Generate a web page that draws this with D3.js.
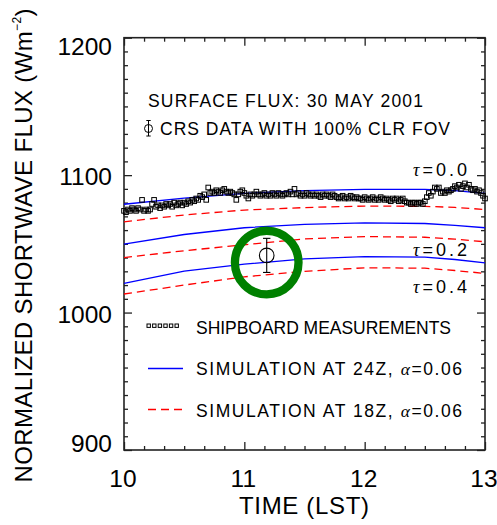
<!DOCTYPE html>
<html>
<head>
<meta charset="utf-8">
<script src="https://cdn.jsdelivr.net/npm/d3@7/dist/d3.min.js"></script>
<style>
  body { margin: 0; background: #fff; }
  text { font-family: "Liberation Sans", Arial, Helvetica, sans-serif; fill: #000; }
  .greek { font-family: "Liberation Serif", "DejaVu Serif", serif; font-style: italic; }
</style>
</head>
<body>
<svg id="chart" width="497" height="525"></svg>
<script>
// ---- axis ticks ----
const timeTicks = [10, 11, 12, 13];
const fluxTicks = [900, 1000, 1100, 1200];

// ---- model simulations (node times in LST hours) ----
const simTimes      = [10, 10.5, 11, 11.5, 12, 12.5, 12.75, 13];
const sim24zTau00   = [1078.8, 1083.2, 1086.7, 1088.7, 1089.7, 1089.6, 1088.7, 1086.8];
const sim18zTau00   = [1066.0, 1071.0, 1074.6, 1076.4, 1077.5, 1077.3, 1076.5, 1075.0];
const sim24zTau02   = [1049.8, 1056.8, 1061.7, 1064.2, 1065.3, 1064.8, 1063.5, 1061.7];
const sim18zTau02   = [1040.0, 1045.0, 1049.3, 1053.6, 1055.3, 1054.8, 1053.4, 1051.5];
const sim24zTau04   = [1021.2, 1030.2, 1035.2, 1039.0, 1040.7, 1040.4, 1038.6, 1036.2];
const sim18zTau04   = [1013.5, 1020.0, 1026.0, 1030.0, 1032.6, 1032.3, 1030.6, 1028.5];

// ---- shipboard measurements: one sample per minute from 10:00 LST ----
const shipStartHour = 10;
const shipStepMinutes = 1;
const shipFlux = [
  1074, 1073, 1075, 1074, 1076, 1075, 1074, 1076, 1075, 1082,
  1074, 1075, 1074, 1075, 1079, 1082, 1077, 1078, 1076, 1078,
  1077, 1079, 1078, 1079, 1077, 1080, 1078, 1079, 1080, 1078,
  1080, 1079, 1081, 1080, 1082, 1081, 1083, 1082, 1085, 1084,
  1086, 1082, 1091, 1087, 1088, 1087, 1089, 1088, 1087, 1089,
  1090, 1088, 1087, 1088, 1087, 1086, 1082, 1086, 1088, 1089,
  1087, 1085, 1083, 1086, 1085, 1086, 1088, 1086, 1085, 1086,
  1087, 1085, 1086, 1085, 1087, 1086, 1085, 1087, 1086, 1085,
  1086, 1087, 1086, 1088, 1086, 1090, 1086, 1087, 1085, 1086,
  1085, 1087, 1086, 1085, 1086, 1085, 1086, 1085, 1084, 1086,
  1085, 1086, 1085, 1084, 1086, 1085, 1084, 1083, 1084, 1085,
  1083, 1084, 1083, 1085, 1084, 1083, 1084, 1083, 1083, 1082,
  1084, 1083, 1082, 1083, 1084, 1082, 1083, 1082, 1084, 1083,
  1082, 1083, 1082, 1081, 1083, 1082, 1083, 1081, 1082, 1083,
  1081, 1080, 1080, 1079, 1080, 1080, 1079, 1080, 1080, 1079,
  1081, 1084, 1087, 1085, 1088, 1091, 1090, 1091, 1087, 1088,
  1087, 1089, 1088, 1089, 1090, 1092, 1091, 1093, 1090, 1092,
  1094, 1091, 1093, 1090, 1089, 1090, 1088, 1089, 1087, 1085,
  1083
];

// ---- CRS retrieval (100% clear field of view) ----
const crsTime = 11.186;
const crsFlux = 1041.6;
const crsError = 12.4;
// highlight ring around the CRS retrieval
const ringFlux = 1036.4;

const svg = d3.select("#chart");
const plotLeft = 124, plotRight = 485, plotTop = 37.7, plotBottom = 450;

const x = d3.scaleLinear().domain([10, 13]).range([plotLeft, plotRight]);
const y = d3.scaleLinear().domain([900, 1200]).range([plotBottom, plotTop]);

const minorX = d3.range(0, 19).map(i => 10 + i / 6).filter(t => Math.abs(t - Math.round(t)) > 1e-6);
const minorY = d3.range(900, 1201, 10).filter(v => v % 100 !== 0);

// ---- frame and inward ticks on all four sides ----
const axisColor = "#222";
function styleAxis(g) {
  g.select(".domain").remove();
  g.selectAll(".tick line").attr("stroke", axisColor).attr("stroke-width", 1.3);
}
svg.append("g").attr("transform", `translate(${plotLeft},0)`)
  .call(d3.axisLeft(y).tickValues(fluxTicks).tickSize(-8).tickFormat("")).call(styleAxis);
svg.append("g").attr("transform", `translate(${plotLeft},0)`)
  .call(d3.axisLeft(y).tickValues(minorY).tickSize(-4).tickFormat("")).call(styleAxis);
svg.append("g").attr("transform", `translate(${plotRight},0)`)
  .call(d3.axisRight(y).tickValues(fluxTicks).tickSize(-8).tickFormat("")).call(styleAxis);
svg.append("g").attr("transform", `translate(${plotRight},0)`)
  .call(d3.axisRight(y).tickValues(minorY).tickSize(-4).tickFormat("")).call(styleAxis);
svg.append("g").attr("transform", `translate(0,${plotBottom})`)
  .call(d3.axisBottom(x).tickValues(timeTicks).tickSize(-8).tickFormat("")).call(styleAxis);
svg.append("g").attr("transform", `translate(0,${plotBottom})`)
  .call(d3.axisBottom(x).tickValues(minorX).tickSize(-4).tickFormat("")).call(styleAxis);
svg.append("g").attr("transform", `translate(0,${plotTop})`)
  .call(d3.axisTop(x).tickValues(timeTicks).tickSize(-8).tickFormat("")).call(styleAxis);
svg.append("g").attr("transform", `translate(0,${plotTop})`)
  .call(d3.axisTop(x).tickValues(minorX).tickSize(-4).tickFormat("")).call(styleAxis);

svg.append("rect")
  .attr("x", plotLeft).attr("y", plotTop)
  .attr("width", plotRight - plotLeft).attr("height", plotBottom - plotTop)
  .attr("fill", "none").attr("stroke", axisColor).attr("stroke-width", 1.6);

// ---- tick labels (end labels kept inside the axis extent) ----
svg.append("g").selectAll("text").data(fluxTicks).join("text")
  .attr("x", plotLeft - 12)
  .attr("y", d => Math.min(Math.max(y(d) + 10, plotTop + 17.5), plotBottom + 1.7))
  .attr("text-anchor", "end")
  .attr("font-size", 24.5)
  .text(d => d);

svg.append("g").selectAll("text").data(timeTicks).join("text")
  .attr("x", d => x(d) - 1)
  .attr("y", 486.7)
  .attr("text-anchor", "middle")
  .attr("font-size", 24.5)
  .text(d => d);

// ---- axis titles ----
svg.append("text")
  .attr("x", 304).attr("y", 514)
  .attr("text-anchor", "middle")
  .attr("font-size", 24)
  .attr("textLength", 130).attr("lengthAdjust", "spacing")
  .text("TIME (LST)");

const yTitle = svg.append("text")
  .attr("transform", "translate(32,245.5) rotate(-90)")
  .attr("text-anchor", "middle")
  .attr("font-size", 24)
  .attr("textLength", 474).attr("lengthAdjust", "spacing");
yTitle.append("tspan").text("NORMALIZED SHORTWAVE FLUX (Wm");
yTitle.append("tspan").attr("font-size", 12).attr("dy", -11).text("\u22122");
yTitle.append("tspan").attr("dy", 11).text(")");

// ---- simulation curves ----
const lineGen = vals => d3.line()
  .x((d, i) => x(simTimes[i]))
  .y(d => y(d))(vals);

const sims = [
  { v: sim24zTau00, c: "#0000ff", dash: null },
  { v: sim18zTau00, c: "#ff0000", dash: "8,5" },
  { v: sim24zTau02, c: "#0000ff", dash: null },
  { v: sim18zTau02, c: "#ff0000", dash: "8,5" },
  { v: sim24zTau04, c: "#0000ff", dash: null },
  { v: sim18zTau04, c: "#ff0000", dash: "8,5" }
];
svg.append("g").selectAll("path").data(sims).join("path")
  .attr("d", d => lineGen(d.v))
  .attr("fill", "none")
  .attr("stroke", d => d.c)
  .attr("stroke-width", 1.3)
  .attr("stroke-dasharray", d => d.dash);

// ---- shipboard squares ----
const sq = 4.6;
svg.append("g").selectAll("rect").data(shipFlux).join("rect")
  .attr("x", (d, i) => x(shipStartHour + i * shipStepMinutes / 60) - sq / 2)
  .attr("y", d => y(d) - sq / 2)
  .attr("width", sq).attr("height", sq)
  .attr("fill", "none").attr("stroke", "#000").attr("stroke-width", 1);

// ---- CRS point with error bar ----
const crs = svg.append("g").attr("stroke", "#000").attr("stroke-width", 1.1).attr("fill", "none");
crs.append("line")
  .attr("x1", x(crsTime)).attr("x2", x(crsTime))
  .attr("y1", y(crsFlux + crsError)).attr("y2", y(crsFlux - crsError));
[crsFlux + crsError, crsFlux - crsError].forEach(v => {
  crs.append("line")
    .attr("x1", x(crsTime) - 3.7).attr("x2", x(crsTime) + 3.7)
    .attr("y1", y(v)).attr("y2", y(v));
});
crs.append("circle").attr("cx", x(crsTime)).attr("cy", y(crsFlux)).attr("r", 7.3);

// green highlight ring
svg.append("circle")
  .attr("cx", x(crsTime)).attr("cy", y(ringFlux)).attr("r", 31.8)
  .attr("fill", "none").attr("stroke", "#008000").attr("stroke-width", 8.3);

// ---- optical depth labels ----
const tauLabels = [
  { t: "0.0", yb: 176 },
  { t: "0.2", yb: 256.3 },
  { t: "0.4", yb: 293 }
];
tauLabels.forEach(d => {
  const t = svg.append("text").attr("x", 413).attr("y", d.yb).attr("font-size", 18)
    .attr("textLength", 54).attr("lengthAdjust", "spacing");
  t.append("tspan").attr("class", "greek").text("\u03c4");
  t.append("tspan").text("=" + d.t);
});

// ---- header text ----
svg.append("text").attr("x", 148).attr("y", 106.6).attr("font-size", 17.5)
  .attr("textLength", 275).attr("lengthAdjust", "spacing")
  .text("SURFACE FLUX: 30 MAY 2001");
svg.append("text").attr("x", 160).attr("y", 135).attr("font-size", 17.5)
  .attr("textLength", 290).attr("lengthAdjust", "spacing")
  .text("CRS DATA WITH 100% CLR FOV");

// header error-bar symbol
const sym = svg.append("g").attr("stroke", "#000").attr("stroke-width", 1).attr("fill", "none");
sym.append("line").attr("x1", 148.5).attr("x2", 148.5).attr("y1", 120.5).attr("y2", 136);
sym.append("line").attr("x1", 146.3).attr("x2", 150.7).attr("y1", 120.5).attr("y2", 120.5);
sym.append("line").attr("x1", 146.3).attr("x2", 150.7).attr("y1", 136).attr("y2", 136);
sym.append("circle").attr("cx", 148.5).attr("cy", 128.5).attr("r", 4);

// ---- legend ----
const legendX = 196;
svg.append("g").selectAll("rect").data(d3.range(6)).join("rect")
  .attr("x", i => 147 + i * 5.6).attr("y", 324)
  .attr("width", 3.4).attr("height", 3.4)
  .attr("fill", "none").attr("stroke", "#000").attr("stroke-width", 1);
svg.append("text").attr("x", legendX).attr("y", 334).attr("font-size", 17.5)
  .attr("textLength", 255).attr("lengthAdjust", "spacing")
  .text("SHIPBOARD MEASUREMENTS");

svg.append("line").attr("x1", 148).attr("x2", 183).attr("y1", 368.5).attr("y2", 368.5)
  .attr("stroke", "#0000ff").attr("stroke-width", 1.3);
const l2 = svg.append("text").attr("x", legendX).attr("y", 375).attr("font-size", 17.5)
  .attr("textLength", 266).attr("lengthAdjust", "spacing");
l2.append("tspan").text("SIMULATION AT 24Z, ");
l2.append("tspan").attr("class", "greek").text("\u03b1");
l2.append("tspan").text("=0.06");

svg.append("line").attr("x1", 148).attr("x2", 183).attr("y1", 409.5).attr("y2", 409.5)
  .attr("stroke", "#ff0000").attr("stroke-width", 1.3).attr("stroke-dasharray", "8,5");
const l3 = svg.append("text").attr("x", legendX).attr("y", 416.7).attr("font-size", 17.5)
  .attr("textLength", 266).attr("lengthAdjust", "spacing");
l3.append("tspan").text("SIMULATION AT 18Z, ");
l3.append("tspan").attr("class", "greek").text("\u03b1");
l3.append("tspan").text("=0.06");
</script>
</body>
</html>
